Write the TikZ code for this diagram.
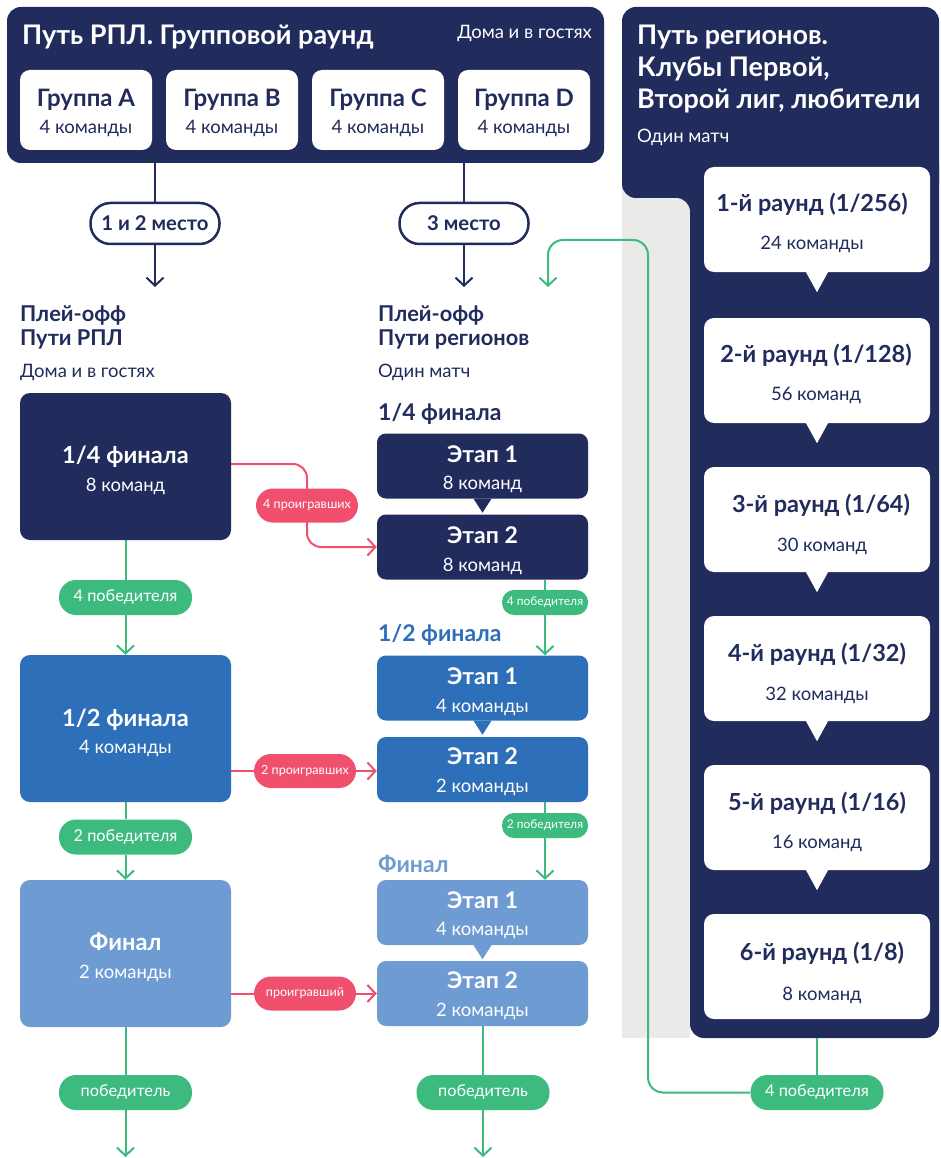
\documentclass[tikz,border=0pt]{standalone}
\usepackage{fontspec}
\setmainfont{Lato}
\usetikzlibrary{arrows.meta}
\definecolor{navy}{HTML}{212B5C}
\definecolor{midblue}{HTML}{2D6FB8}
\definecolor{lightblue}{HTML}{6E9CD2}
\definecolor{grn}{HTML}{3DBB7F}
\definecolor{rd}{HTML}{F0506E}
\definecolor{lgray}{HTML}{EAEAE8}
\pgfdeclarelayer{back}
\pgfdeclarelayer{lines}
\pgfsetlayers{back,lines,main}
\tikzset{
 panel/.style={fill=navy, rounded corners=14pt, inner sep=0pt},
 wbox/.style={fill=white, rounded corners=10pt, inner sep=0pt, minimum width=132pt, minimum height=80pt},
 bigbox/.style={rounded corners=10pt, inner sep=0pt, minimum width=211pt, minimum height=147pt},
 stage/.style={rounded corners=9pt, inner sep=0pt, minimum width=211pt, minimum height=65pt},
 rbox/.style={fill=white, rounded corners=10pt, inner sep=0pt, minimum width=226pt, minimum height=105pt},
 toppill/.style={draw=navy, line width=2.5pt, fill=white, rounded corners=20pt, minimum width=129pt, minimum height=41pt, inner sep=0pt, text=navy, font=\fontsize{20.3}{24}\selectfont\bfseries},
 gpill/.style={fill=grn, rounded corners=17pt, minimum width=133pt, minimum height=35pt, inner sep=0pt, text=white, font=\fontsize{16.3}{19}\selectfont},
 spill/.style={fill=grn, rounded corners=12pt, minimum width=86pt, minimum height=25pt, inner sep=0pt, text=white, font=\fontsize{12}{14}\selectfont},
 rpill/.style={fill=rd, rounded corners=17pt, minimum width=102pt, minimum height=34pt, inner sep=0pt, text=white, font=\fontsize{12.6}{15}\selectfont},
 tx/.style={inner sep=0pt, anchor=base},
 txl/.style={inner sep=0pt, anchor=base west},
 fbig/.style={font=\fontsize{27}{31}\selectfont\bfseries},
 fnote/.style={font=\fontsize{18.5}{22}\selectfont},
 fgrp/.style={font=\fontsize{24}{28}\selectfont\bfseries},
 fsub/.style={font=\fontsize{18.5}{22}\selectfont},
 fhead/.style={font=\fontsize{21.8}{25}\selectfont\bfseries},
 fsec/.style={font=\fontsize{23}{27}\selectfont\bfseries},
 fbt/.style={font=\fontsize{23.6}{27}\selectfont\bfseries},
 fst/.style={font=\fontsize{23}{27}\selectfont\bfseries},
 frt/.style={font=\fontsize{23.5}{27}\selectfont\bfseries},
 gline/.style={draw=grn, line width=2pt},
 rline/.style={draw=rd, line width=2pt},
 nline/.style={draw=navy, line width=2pt},
 tip/.style={-{Straight Barb[length=8pt,width=17pt]}},
}
\begin{document}
\begin{tikzpicture}[x=1pt,y=-1pt]
\useasboundingbox (0,0) rectangle (940,1158);
\begin{pgfonlayer}{back}
\fill[white] (0,0) rectangle (940,1158);
\fill[lgray] (622,150) rectangle (690,1038);
\fill[navy, rounded corners=14pt] (622,7) rectangle (939,198);
\fill[navy, rounded corners=14pt] (690,150) rectangle (939,1038);
\fill[navy] (676,198) rectangle (690,212);
\fill[lgray] (676,212) circle (14);
\end{pgfonlayer}

% ---------- left top panel ----------
\node[panel, minimum width=597pt, minimum height=156pt] (rpl) at (305.5,85) {};
\node[txl, text=white, fbig] (t0) at (22,45) {Путь РПЛ. Групповой раунд};
\node[inner sep=0pt, anchor=base east, text=white, fnote] (t0b) at (592,39) {Дома и в гостях};
\node[wbox] (gA) at (86,110) {};
\node[wbox] (gB) at (232,110) {};
\node[wbox] (gC) at (378,110) {};
\node[wbox] (gD) at (524,110) {};
\node[tx, text=navy, fgrp] (gAt) at (86,107) {Группа A};
\node[tx, text=navy, fgrp] (gBt) at (232,107) {Группа B};
\node[tx, text=navy, fgrp] (gCt) at (378,107) {Группа C};
\node[tx, text=navy, fgrp] (gDt) at (524,107) {Группа D};
\node[tx, text=navy, fsub] (gAs) at (86,134) {4 команды};
\node[tx, text=navy, fsub] (gBs) at (232,134) {4 команды};
\node[tx, text=navy, fsub] (gCs) at (378,134) {4 команды};
\node[tx, text=navy, fsub] (gDs) at (524,134) {4 команды};

% ---------- top pills ----------
\node[toppill] (p12) at (155,223.5) {1 и 2 место};
\node[toppill] (p3) at (464,223.5) {3 место};
\coordinate (a12) at (155,287);
\coordinate (a3) at (464,287);

% ---------- headers ----------
\node[txl, text=navy, fhead] (h1) at (20,321) {Плей-офф};
\node[txl, text=navy, fhead] (h2) at (20,345) {Пути РПЛ};
\node[txl, text=navy, fnote] (h3) at (20,377) {Дома и в гостях};
\node[txl, text=navy, fhead] (h4) at (378,321) {Плей-офф};
\node[txl, text=navy, fhead] (h5) at (378,345) {Пути регионов};
\node[txl, text=navy, fnote] (h6) at (378,377) {Один матч};
\node[txl, text=navy, fsec] (s1) at (378,420) {1/4 финала};
\node[txl, text=midblue, fsec] (s2h) at (378,641) {1/2 финала};
\node[txl, text=lightblue, fsec] (s3) at (378,872) {Финал};

% ---------- left big boxes ----------
\node[bigbox, fill=navy] (q4) at (125.5,466.5) {};
\node[tx, text=white, fbt] (q4t) at (125.5,463) {1/4 финала};
\node[tx, text=white, fsub] (q4s) at (125.5,491) {8 команд};
\node[bigbox, fill=midblue] (sf) at (125.5,728.5) {};
\node[tx, text=white, fbt] (sft) at (125.5,726) {1/2 финала};
\node[tx, text=white, fsub] (sfs) at (125.5,753) {4 команды};
\node[bigbox, fill=lightblue] (fi) at (125.5,953.5) {};
\node[tx, text=white, fbt] (fit) at (125.5,950) {Финал};
\node[tx, text=white, fsub] (fis) at (125.5,978) {2 команды};

% ---------- middle stages ----------
\node[stage, fill=navy] (n1) at (482.5,466) {};
\node[stage, fill=navy] (n2) at (482.5,547) {};
\node[stage, fill=midblue] (b1) at (482.5,688) {};
\node[stage, fill=midblue] (b2) at (482.5,769.5) {};
\node[stage, fill=lightblue] (l1) at (482.5,912.5) {};
\node[stage, fill=lightblue] (l2) at (482.5,993.5) {};
\fill[navy] ([xshift=-9pt]n1.south) -- ([xshift=9pt]n1.south) -- ([yshift=-14pt]n1.south) -- cycle;
\fill[midblue] ([xshift=-9pt]b1.south) -- ([xshift=9pt]b1.south) -- ([yshift=-14pt]b1.south) -- cycle;
\fill[lightblue] ([xshift=-9pt]l1.south) -- ([xshift=9pt]l1.south) -- ([yshift=-14pt]l1.south) -- cycle;
\node[tx, text=white, fst] (n1t) at (482.5,462) {Этап 1};
\node[tx, text=white, fsub] (n1s) at (482.5,489) {8 команд};
\node[tx, text=white, fst] (n2t) at (482.5,543) {Этап 2};
\node[tx, text=white, fsub] (n2s) at (482.5,571) {8 команд};
\node[tx, text=white, fst] (b1t) at (482.5,684) {Этап 1};
\node[tx, text=white, fsub] (b1s) at (482.5,712) {4 команды};
\node[tx, text=white, fst] (b2t) at (482.5,764) {Этап 2};
\node[tx, text=white, fsub] (b2s) at (482.5,792) {2 команды};
\node[tx, text=white, fst] (l1t) at (482.5,908) {Этап 1};
\node[tx, text=white, fsub] (l1s) at (482.5,935) {4 команды};
\node[tx, text=white, fst] (l2t) at (482.5,988) {Этап 2};
\node[tx, text=white, fsub] (l2s) at (482.5,1016) {2 команды};

% ---------- pills ----------
\node[gpill] (gp1) at (125.5,597.5) {4 победителя};
\node[gpill] (gp2) at (125.5,837) {2 победителя};
\node[gpill] (gp3) at (125.5,1092.5) {победитель};
\node[gpill] (gp4) at (483,1092.5) {победитель};
\node[gpill] (gp5) at (817,1092.5) {4 победителя};
\node[spill] (sp1) at (545,602.5) {4 победителя};
\node[spill] (sp2) at (545,825.5) {2 победителя};
\node[rpill] (rp1) at (307,505.5) {4 проигравших};
\node[rpill] (rp2) at (305,771) {2 проигравших};
\node[rpill] (rp3) at (305,993.5) {проигравший};
\coordinate (endL) at (125.5,1157);
\coordinate (endM) at (483,1157);
\coordinate (colbot) at (817,1038);
\coordinate (gR) at (548,287);

% ---------- right rounds ----------
\node[rbox] (r1) at (817,219.5) {};
\node[rbox] (r2) at (817,370.5) {};
\node[rbox] (r3) at (817,519.5) {};
\node[rbox] (r4) at (817,668.5) {};
\node[rbox] (r5) at (817,817.5) {};
\node[rbox] (r6) at (817,966.5) {};
\foreach \r in {r1,r2,r3,r4,r5}{
 \fill[white] ([xshift=-11pt]\r.south) -- ([xshift=11pt]\r.south) -- ([yshift=-20pt]\r.south) -- cycle;
}
\node[tx, text=navy, frt] (r1t) at (812,212) {1-й раунд (1/256)};
\node[tx, text=navy, fsub] (r1s) at (812,250) {24 команды};
\node[tx, text=navy, frt] (r2t) at (816,362) {2-й раунд (1/128)};
\node[tx, text=navy, fsub] (r2s) at (816,400) {56 команд};
\node[tx, text=navy, frt] (r3t) at (821,512) {3-й раунд (1/64)};
\node[tx, text=navy, fsub] (r3s) at (822,551) {30 команд};
\node[tx, text=navy, frt] (r4t) at (817,661) {4-й раунд (1/32)};
\node[tx, text=navy, fsub] (r4s) at (817,700) {32 команды};
\node[tx, text=navy, frt] (r5t) at (817,810) {5-й раунд (1/16)};
\node[tx, text=navy, fsub] (r5s) at (817,848) {16 команд};
\node[tx, text=navy, frt] (r6t) at (822,960) {6-й раунд (1/8)};
\node[tx, text=navy, fsub] (r6s) at (822,1000) {8 команд};

\node[txl, text=white, fbig] (rt1) at (637,45) {Путь регионов.};
\node[txl, text=white, fbig] (rt2) at (637,77) {Клубы Первой,};
\node[txl, text=white, fbig] (rt3) at (637,109) {Второй лиг, любители};
\node[txl, text=white, fnote] (rt4) at (637,143) {Один матч};

% ---------- connectors ----------
\begin{pgfonlayer}{lines}
\draw[nline] (p12 |- rpl.south) -- (p12.north);
\draw[nline, tip] (p12.south) -- (a12);
\draw[nline] (p3 |- rpl.south) -- (p3.north);
\draw[nline, tip] (p3.south) -- (a3);

\draw[gline] (q4.south) -- (gp1.north);
\draw[gline, tip] (gp1.south) -- (sf.north);
\draw[gline] (sf.south) -- (gp2.north);
\draw[gline, tip] (gp2.south) -- (fi.north);
\draw[gline] (fi.south) -- (gp3.north);
\draw[gline, tip] (gp3.south) -- (endL);

\draw[gline] (n2.south -| sp1) -- (sp1.north);
\draw[gline, tip] (sp1.south) -- (sp1 |- b1.north);
\draw[gline] (b2.south -| sp2) -- (sp2.north);
\draw[gline, tip] (sp2.south) -- (sp2 |- l1.north);
\draw[gline] (l2.south -| gp4) -- (gp4.north);
\draw[gline, tip] (gp4.south) -- (endM);

\draw[gline] (colbot) -- (gp5.north);
\draw[gline, tip, rounded corners=15pt] (gp5.west) -- (648,1092.5) -- (648,240) -- (548,240) -- (gR);

\draw[rline, rounded corners=14pt] ([yshift=2.5pt]q4.east) -- (rp1 |- 0,464) -- (rp1.center);
\draw[rline, tip, rounded corners=14pt] (rp1.center) -- (rp1 |- n2.west) -- (n2.west);
\draw[rline] (rp2 -| sf.east) -- (rp2.west);
\draw[rline, tip] (rp2.east) -- (rp2 -| b2.west);
\draw[rline] (rp3 -| fi.east) -- (rp3.west);
\draw[rline, tip] (rp3.east) -- (rp3 -| l2.west);
\end{pgfonlayer}
\end{tikzpicture}
\end{document}
